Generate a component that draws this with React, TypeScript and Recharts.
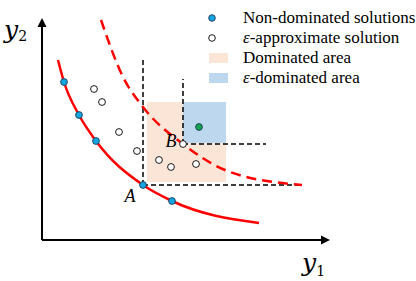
import React from 'react';
import {
  ComposedChart,
  XAxis,
  YAxis,
  Line,
  Scatter,
  ReferenceArea,
  ReferenceLine,
  ReferenceDot,
} from 'recharts';

// objective space, y1 across and y2 up (origin = axis corner)
const paretoFront = [
  { x: 1.6, y: 18.0 },
  { x: 2.2, y: 15.8 },
  { x: 3.7, y: 12.5 },
  { x: 5.4, y: 9.9 },
  { x: 10.1, y: 5.5 },
  { x: 13.0, y: 3.9 },
  { x: 21.7, y: 1.7 },
];

const approxFront = [
  { x: 5.9, y: 22.0 },
  { x: 8.1, y: 16.3 },
  { x: 10.1, y: 13.3 },
  { x: 14.1, y: 9.6 },
  { x: 18.8, y: 6.8 },
  { x: 26.0, y: 5.5 },
];

const nonDominated = [
  { x: 2.2, y: 15.8 },
  { x: 3.7, y: 12.5 },
  { x: 5.4, y: 9.9 },
  { x: 10.1, y: 5.5 },
  { x: 13.0, y: 3.9 },
];

const approximate = [
  { x: 5.2, y: 15.1 },
  { x: 6.0, y: 13.8 },
  { x: 7.7, y: 10.8 },
  { x: 9.5, y: 8.9 },
  { x: 11.7, y: 8.0 },
  { x: 12.9, y: 7.3 },
  { x: 15.4, y: 7.6 },
  { x: 14.1, y: 9.6 },
];

const epsPoint = [{ x: 15.7, y: 11.3 }];

const pointA = { x: 10.1, y: 5.5 };
const pointB = { x: 14.1, y: 9.6 };

const dominatedArea = { x1: 10.5, x2: 18.4, y1: 5.8, y2: 13.8 };
const epsArea = { x1: 14.1, x2: 18.4, y1: 9.7, y2: 13.8 };

const guideA = { top: 18.3, right: 25.8 };
const guideB = { top: 16.1, right: 22.4 };

const axisEnd = { x: 28.8, y: 22.2 };

const legendItems = [
  { kind: 'dot', fill: '#14A6DE', label: 'Non-dominated solutions' },
  { kind: 'dot', fill: '#FFFFFF', label: '-approximate solution', eps: true },
  { kind: 'box', fill: '#FBE5D6', label: 'Dominated area' },
  { kind: 'box', fill: '#BDD7EE', label: '-dominated area', eps: true },
];

const serif = '"Liberation Serif", "Times New Roman", serif';

const Arrow = (props: any) => {
  const { x1, y1, x2, y2 } = props;
  const ang = Math.atan2(y2 - y1, x2 - x1);
  const len = 9;
  const half = 4.5;
  const bx = x2 - len * Math.cos(ang);
  const by = y2 - len * Math.sin(ang);
  const px = -Math.sin(ang) * half;
  const py = Math.cos(ang) * half;
  return (
    <g>
      <line x1={x1} y1={y1} x2={bx} y2={by} stroke="#000" strokeWidth={2} />
      <polygon
        points={`${x2},${y2} ${bx + px},${by + py} ${bx - px},${by - py}`}
        fill="#000"
      />
    </g>
  );
};

const dotShape = (fill: string) => (props: any) => (
  <circle
    cx={props.cx}
    cy={props.cy}
    r={3.4}
    fill={fill}
    stroke={fill === '#FFFFFF' ? '#000' : '#1F3A5F'}
    strokeWidth={0.9}
  />
);

const PointName = ({ viewBox, text, dx, dy }: any) => (
  <text
    x={viewBox.x + dx}
    y={viewBox.y + dy}
    textAnchor="middle"
    fontFamily={serif}
    fontStyle="italic"
    fontSize={18}
    fill="#000"
  >
    {text}
  </text>
);

const LegendBox = () => (
  <div
    style={{
      position: 'absolute',
      left: 205,
      top: 8,
      fontFamily: serif,
      fontSize: 17,
      lineHeight: '20px',
      color: '#000',
    }}
  >
    {legendItems.map((it) => (
      <div key={it.label} style={{ display: 'flex', alignItems: 'center', height: 20 }}>
        <svg width={38} height={20} style={{ flexShrink: 0 }}>
          {it.kind === 'dot' ? (
            <circle
              cx={7}
              cy={10}
              r={3.3}
              fill={it.fill}
              stroke={it.fill === '#FFFFFF' ? '#000' : '#1F3A5F'}
              strokeWidth={0.9}
            />
          ) : (
            <rect x={4} y={5} width={19} height={10} fill={it.fill} />
          )}
        </svg>
        <span style={{ whiteSpace: 'nowrap' }}>
          {it.eps && <i>ε</i>}
          {it.label}
        </span>
      </div>
    ))}
  </div>
);

export default function App() {
  return (
    <div style={{ position: 'absolute', left: 0, top: 0, width: 416, height: 281, background: '#fff' }}>
      <ComposedChart width={416} height={281} margin={{ top: 0, right: 0, bottom: 0, left: 0 }}>
        <XAxis type="number" dataKey="x" domain={[-4.2, 37.4]} allowDataOverflow hide />
        <YAxis type="number" dataKey="y" domain={[-4.1, 24.0]} allowDataOverflow hide />

        <ReferenceArea {...dominatedArea} fill="#FBE5D6" fillOpacity={1} stroke="none" ifOverflow="visible" />
        <ReferenceArea {...epsArea} fill="#BDD7EE" fillOpacity={1} stroke="none" ifOverflow="visible" />

        <ReferenceLine
          segment={[pointA, { x: pointA.x, y: guideA.top }]}
          stroke="#000"
          strokeWidth={1.5}
          strokeDasharray="5 3"
          ifOverflow="visible"
        />
        <ReferenceLine
          segment={[pointA, { x: guideA.right, y: pointA.y }]}
          stroke="#000"
          strokeWidth={1.5}
          strokeDasharray="5 3"
          ifOverflow="visible"
        />
        <ReferenceLine
          segment={[pointB, { x: pointB.x, y: guideB.top }]}
          stroke="#000"
          strokeWidth={1.5}
          strokeDasharray="5 3"
          ifOverflow="visible"
        />
        <ReferenceLine
          segment={[pointB, { x: guideB.right, y: pointB.y }]}
          stroke="#000"
          strokeWidth={1.5}
          strokeDasharray="5 3"
          ifOverflow="visible"
        />

        <ReferenceLine segment={[{ x: 0, y: 0 }, { x: axisEnd.x, y: 0 }]} shape={Arrow} ifOverflow="visible" />
        <ReferenceLine segment={[{ x: 0, y: 0 }, { x: 0, y: axisEnd.y }]} shape={Arrow} ifOverflow="visible" />

        <Line
          data={paretoFront}
          dataKey="y"
          type="monotone"
          stroke="#FF0000"
          strokeWidth={2.5}
          dot={false}
          activeDot={false}
          isAnimationActive={false}
        />
        <Line
          data={approxFront}
          dataKey="y"
          type="monotone"
          stroke="#FF0000"
          strokeWidth={2.5}
          strokeDasharray="10 6"
          dot={false}
          activeDot={false}
          isAnimationActive={false}
        />

        <Scatter data={approximate} shape={dotShape('#FFFFFF')} isAnimationActive={false} />
        <Scatter data={nonDominated} shape={dotShape('#14A6DE')} isAnimationActive={false} />
        <Scatter data={epsPoint} shape={dotShape('#14A34F')} isAnimationActive={false} />

        <ReferenceDot {...pointA} r={0} fill="none" stroke="none" label={<PointName text="A" dx={-13} dy={17} />} />
        <ReferenceDot {...pointB} r={0} fill="none" stroke="none" label={<PointName text="B" dx={-12} dy={3} />} />
      </ComposedChart>

      <LegendBox />

      <svg width={416} height={281} style={{ position: 'absolute', left: 0, top: 0, pointerEvents: 'none' }}>
        <text x={4} y={38} fontFamily='"DejaVu Serif", serif' fontStyle="italic" fontSize={25}>
          y<tspan fontStyle="normal" fontSize={14} dy={3}>2</tspan>
        </text>
        <text x={302} y={271} fontFamily='"DejaVu Serif", serif' fontStyle="italic" fontSize={25}>
          y<tspan fontStyle="normal" fontSize={14} dy={5}>1</tspan>
        </text>
      </svg>
    </div>
  );
}
